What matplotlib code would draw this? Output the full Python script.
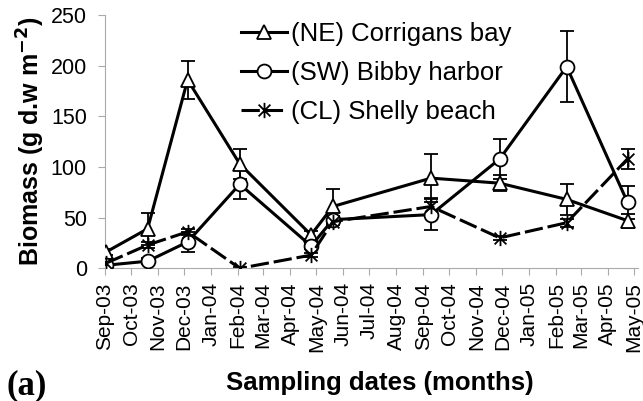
import datetime as dt
import matplotlib
matplotlib.use("Agg")
import matplotlib.pyplot as plt
import matplotlib.dates as mdates
from matplotlib.path import Path

plt.rcParams['font.family'] = ['Liberation Sans', 'DejaVu Sans']

# sampling dates (same for the three sites)
dates = ["2003-09-02", "2003-10-20", "2003-12-05", "2004-02-03", "2004-04-25",
         "2004-05-20", "2004-09-10", "2004-11-28", "2005-02-13", "2005-04-24"]

# biomass (g d.w m-2) and error bars
ne_vals = [16, 39, 186, 103, 33, 61, 89, 84, 68, 47]
ne_err = [3, 16, 19, 15, 4, 17, 24, 8, 15, 7]
sw_vals = [3, 7, 26, 83, 22, 48, 53, 108, 199, 65]
sw_err = [2, 3, 10, 15, 3, 4, 15, 20, 35, 16]
cl_vals = [5, 23, 36, 0, 13, 46, 61, 30, 45, 108]
cl_err = [2, 3, 3, 1, 2, 3, 8, 2, 4, 10]

labels = ["(NE) Corrigans bay", "(SW) Bibby harbor", "(CL) Shelly beach"]

x = [dt.datetime.strptime(d, "%Y-%m-%d") for d in dates]

# star marker like excel (X plus vertical bar)
star = Path([(-1, -1), (1, 1), (-1, 1), (1, -1), (0, -1.3), (0, 1.3)],
            [Path.MOVETO, Path.LINETO, Path.MOVETO, Path.LINETO, Path.MOVETO, Path.LINETO])

fig = plt.figure(figsize=(6.43, 4.01), dpi=100)
ax = fig.add_axes([105 / 643, 1 - 268.3 / 401, 533 / 643, (268.3 - 15) / 401])

ebkw = dict(fmt="none", ecolor="black", elinewidth=1.3, capsize=5, capthick=1.3, zorder=2)
ax.errorbar(x, ne_vals, yerr=ne_err, **ebkw)
ax.errorbar(x, sw_vals, yerr=sw_err, **ebkw)
ax.errorbar(x, cl_vals, yerr=cl_err, **ebkw)

h1, = ax.plot(x, ne_vals, color="black", lw=2.2, marker="^", ms=10,
              mfc="white", mec="black", mew=1.3, zorder=3)
h2, = ax.plot(x, sw_vals, color="black", lw=2.2, marker="o", ms=10,
              mfc="white", mec="black", mew=1.3, zorder=3)
h3, = ax.plot(x, cl_vals, color="black", lw=2.2, ls=(0, (6, 1.6)), marker=star, ms=11,
              mfc="none", mec="black", mew=1.3, zorder=3)

ax.set_xlim(dt.datetime(2003, 9, 1), dt.datetime(2005, 5, 6))
ax.set_ylim(0, 250)
ax.set_yticks([0, 50, 100, 150, 200, 250])
ax.xaxis.set_major_locator(mdates.MonthLocator())
ax.xaxis.set_major_formatter(mdates.DateFormatter("%b-%y"))
ax.tick_params(axis="x", labelrotation=90, labelsize=15, color="#aaaaaa", length=5, pad=5)
ax.tick_params(axis="y", labelsize=15.5, color="#aaaaaa", length=5, pad=8)

for s in ["top", "right"]:
    ax.spines[s].set_visible(False)
for s in ["left", "bottom"]:
    ax.spines[s].set_color("#aaaaaa")

ax.set_ylabel("Biomass (g d.w m$^{\\mathbf{-2}}$)", fontsize=18, fontweight="bold")
ax.yaxis.set_label_coords(-58 / 533, 0.5)
fig.text(380 / 643, 1 - 383 / 401, "Sampling dates (months)", fontsize=18.5,
         fontweight="bold", ha="center", va="center")
fig.text(6 / 643, 1 - 386 / 401, "(a)", fontsize=25, fontweight="bold",
         family=["Liberation Serif", "DejaVu Serif"], ha="left", va="center")

fig.legend([h1, h2, h3], labels, loc="upper left", bbox_to_anchor=(241 / 643, 1 - 22 / 401),
           frameon=False, fontsize=18.5, handlelength=1.8, handletextpad=0.15,
           labelspacing=0.58, borderpad=0, borderaxespad=0, numpoints=1)

fig.savefig("out.png", dpi=100)
